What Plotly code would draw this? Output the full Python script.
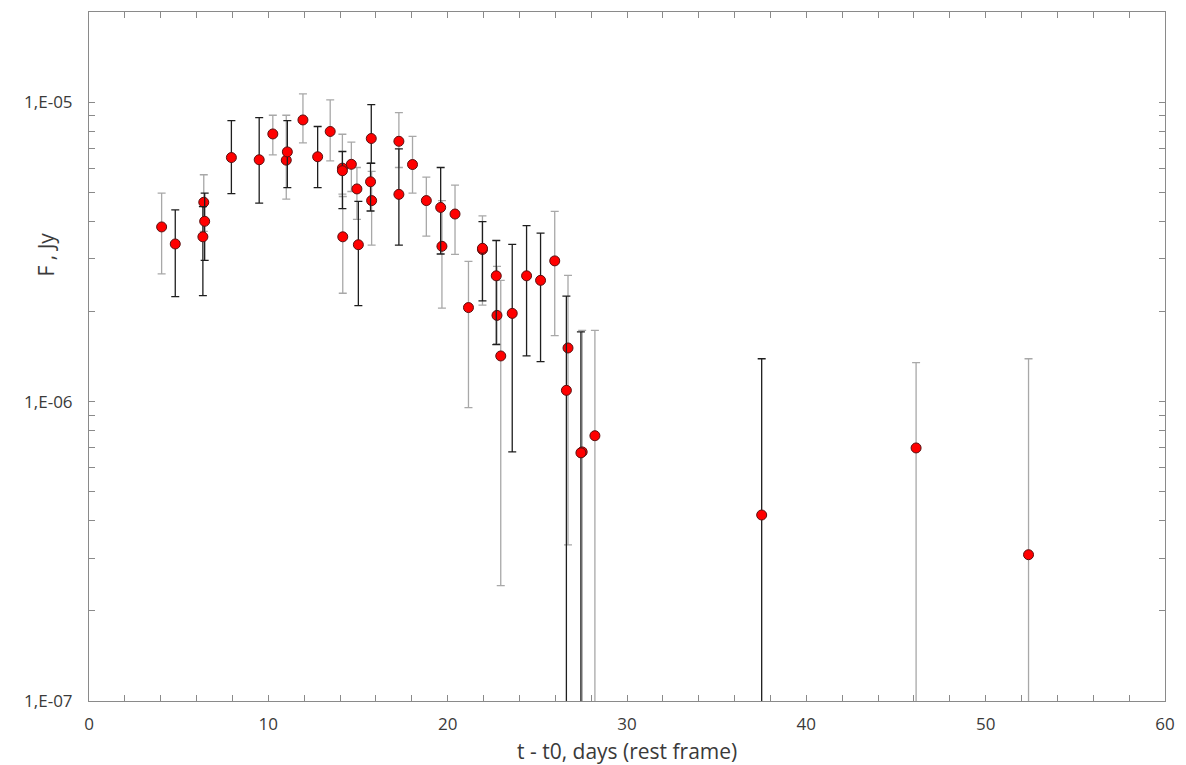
import plotly.graph_objects as go

# Series with black error bars
t_black = [4.81, 6.45, 6.35, 7.94, 9.49, 11.06, 12.75, 14.13, 15.02, 15.74, 15.70, 17.28,
           19.61, 21.94, 22.71, 23.60, 24.40, 25.18, 26.62, 27.43, 37.51]
f_black = [3.36e-6, 4.00e-6, 3.55e-6, 6.53e-6, 6.42e-6, 6.82e-6, 6.57e-6, 5.90e-6, 3.34e-6, 7.56e-6, 5.42e-6, 4.92e-6,
           4.45e-6, 3.25e-6, 2.63e-6, 1.97e-6, 2.63e-6, 2.54e-6, 1.09e-6, 6.74e-7, 4.18e-7]
hi_black = [4.37e-6, 4.97e-6, 4.48e-6, 8.68e-6, 8.88e-6, 8.68e-6, 8.29e-6, 6.84e-6, 4.66e-6, 9.81e-6, 6.24e-6, 6.98e-6,
            6.05e-6, 3.99e-6, 3.45e-6, 3.35e-6, 3.87e-6, 3.65e-6, 2.25e-6, 1.71e-6, 1.39e-6]
lo_black = [2.24e-6, 2.96e-6, 2.26e-6, 4.95e-6, 4.60e-6, 5.18e-6, 5.18e-6, 4.41e-6, 2.09e-6, 6.25e-6, 4.33e-6, 3.33e-6,
            3.11e-6, 2.17e-6, 1.55e-6, 6.79e-7, 1.42e-6, 1.36e-6, 1e-8, 1e-8, 1e-8]

# Series with grey error bars
t_grey = [4.05, 6.40, 10.25, 11.00, 11.93, 13.45, 14.13, 14.15, 14.63, 14.94, 15.76, 17.28, 18.04, 18.81,
          19.68, 20.41, 21.16, 21.94, 22.75, 22.96, 25.97, 26.71, 27.50, 28.21, 46.12, 52.39]
f_grey = [3.83e-6, 4.63e-6, 7.83e-6, 6.40e-6, 8.72e-6, 7.98e-6, 6.02e-6, 3.55e-6, 6.20e-6, 5.13e-6, 4.69e-6, 7.40e-6, 6.19e-6, 4.69e-6,
          3.30e-6, 4.23e-6, 2.06e-6, 3.22e-6, 1.94e-6, 1.42e-6, 2.95e-6, 1.51e-6, 6.79e-7, 7.69e-7, 7.00e-7, 3.08e-7]
hi_grey = [4.97e-6, 5.72e-6, 9.04e-6, 9.04e-6, 1.065e-5, 1.017e-5, 7.81e-6, 4.84e-6, 7.35e-6, 6.05e-6, 5.87e-6, 9.23e-6, 7.69e-6, 5.62e-6,
           4.69e-6, 5.28e-6, 2.94e-6, 4.17e-6, 2.83e-6, 2.54e-6, 4.32e-6, 2.64e-6, 1.73e-6, 1.73e-6, 1.35e-6, 1.39e-6]
lo_grey = [2.67e-6, 3.70e-6, 6.67e-6, 4.74e-6, 7.31e-6, 6.37e-6, 4.93e-6, 2.30e-6, 5.03e-6, 4.06e-6, 3.33e-6, 6.05e-6, 4.97e-6, 3.57e-6,
           2.05e-6, 3.10e-6, 9.54e-7, 2.10e-6, 1.56e-6, 2.43e-7, 1.66e-6, 3.32e-7, 1e-8, 1e-8, 1e-8, 1e-8]

y_tickvals = [1e-7, 1e-6, 1e-5]
y_ticktext = ["1,E-07", "1,E-06", "1,E-05"]
x_tickvals = [0, 10, 20, 30, 40, 50, 60]

FONT = "Open Sans"
FRAME = "#8a8a8a"
TXT = "#3a3a3a"
MARKER = dict(color="#ff0000", size=10, line=dict(color="#5a1010", width=1))


def trace(t, f, hi, lo, col):
    return go.Scatter(
        x=t, y=f, mode="markers", marker=MARKER, showlegend=False,
        error_y=dict(type="data", symmetric=False,
                     array=[h - v for h, v in zip(hi, f)],
                     arrayminus=[v - l for v, l in zip(f, lo)],
                     color=col, thickness=1.3, width=4),
    )


fig = go.Figure()
fig.add_trace(trace(t_grey, f_grey, hi_grey, lo_grey, "#a8a8a8"))
fig.add_trace(trace(t_black, f_black, hi_black, lo_black, "#1e1e1e"))

minor_y = [k * 10.0 ** e for e in (-7, -6, -5) for k in range(2, 10) if k * 10.0 ** e < 2e-5]

fig.update_layout(
    width=1186, height=765,
    margin=dict(l=89, r=15, t=11, b=64),
    paper_bgcolor="white", plot_bgcolor="white",
    font=dict(family=FONT, size=17, color=TXT),
    xaxis=dict(
        range=[0, 60], tickmode="array", tickvals=x_tickvals,
        showline=True, linecolor=FRAME, linewidth=1, mirror="allticks",
        ticks="inside", ticklen=6, tickcolor=FRAME, showgrid=False, zeroline=False,
        minor=dict(dtick=2, ticks="inside", ticklen=6, tickcolor=FRAME, showgrid=False),
        tickfont=dict(size=17, color=TXT), ticklabelstandoff=8,
    ),
    yaxis=dict(
        type="log", range=[-7, -4.699], tickmode="array", tickvals=y_tickvals, ticktext=y_ticktext,
        showline=True, linecolor=FRAME, linewidth=1, mirror="allticks",
        ticks="inside", ticklen=6, tickcolor=FRAME, showgrid=False, zeroline=False,
        minor=dict(tickmode="array", tickvals=minor_y, ticks="inside", ticklen=6, tickcolor=FRAME, showgrid=False),
        tickfont=dict(size=17, color=TXT), ticklabelstandoff=12,
    ),
    annotations=[
        dict(text="t - t0, days (rest frame)", xref="paper", yref="paper", x=0.5, y=-0.073,
             xanchor="center", yanchor="middle", showarrow=False, font=dict(size=21, color=TXT)),
        dict(text="F , Jy", xref="paper", yref="paper", x=-0.04, y=0.648, textangle=-90,
             xanchor="center", yanchor="middle", showarrow=False, font=dict(size=21, color=TXT)),
    ],
)

fig.write_html("out.html")
